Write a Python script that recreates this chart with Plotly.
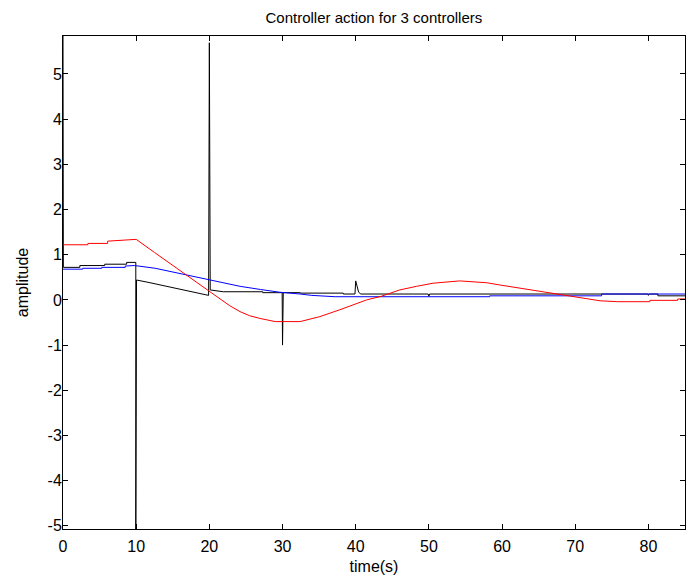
import plotly.graph_objects as go

# Controller outputs sampled from the simulation (time in s, amplitude)
black_t = [0, 0.05, 2.3, 2.3, 5.7, 5.7, 8.7, 8.7, 9.95, 9.95, 10.05, 10.05, 11.6, 14.3, 17.0, 19.9,
           20.0, 20.05, 20.1, 20.12, 21.9, 27.3, 27.3, 29.95, 30.0, 30.05, 30.1, 32.4, 32.4, 38.3, 38.3,
           39.9, 40.0, 40.4, 40.7, 49.9, 50.0, 50.1, 79.9, 80.0, 80.1, 81.3, 81.3, 85.0]
black_y = [5.84, 0.72, 0.72, 0.76, 0.76, 0.79, 0.79, 0.83, 0.83, -5.07, -5.07, 0.44, 0.39, 0.30, 0.20, 0.10,
           5.69, 3.55, 3.20, 0.22, 0.18, 0.18, 0.16, 0.16, -1.00, -0.29, 0.16, 0.16, 0.15, 0.15, 0.13,
           0.13, 0.42, 0.17, 0.13, 0.13, 0.08, 0.13, 0.13, 0.10, 0.13, 0.13, 0.09, 0.09]

blue_t = [0, 2.7, 2.7, 5.3, 5.3, 8.5, 8.5, 9.8, 12.6, 16.7, 18.7, 20.8, 24.2, 27.0, 29.6, 32.4, 34.0,
          37.2, 58.3, 58.3, 73.6, 73.6, 85.0]
blue_y = [0.68, 0.68, 0.70, 0.70, 0.72, 0.72, 0.75, 0.76, 0.70, 0.56, 0.48, 0.42, 0.30, 0.23, 0.17, 0.13, 0.10,
          0.07, 0.07, 0.09, 0.09, 0.13, 0.13]

red_t = [0, 3.4, 3.4, 6.1, 6.1, 8.9, 10.0, 12.5, 15.0, 16.7, 18.7, 20.0, 21.4, 22.8, 24.2, 25.5, 26.9,
         29.0, 32.4, 35.1, 37.8, 40.6, 41.5, 43.5, 46.0, 48.3, 50.6, 54.2, 57.9, 59.7, 62.4, 65.2, 67.9,
         70.6, 73.4, 75.8, 80.2, 80.2, 84.0, 84.0, 85.0]
red_y = [1.22, 1.22, 1.25, 1.25, 1.30, 1.33, 1.34, 1.05, 0.76, 0.56, 0.33, 0.19, 0.02, -0.13, -0.26, -0.35, -0.41,
         -0.48, -0.48, -0.37, -0.22, -0.06, 0.00, 0.08, 0.22, 0.30, 0.37, 0.42, 0.38, 0.33, 0.26, 0.18, 0.11,
         0.04, -0.02, -0.04, -0.04, -0.01, -0.01, 0.02, 0.02]

x_ticks = [0, 10, 20, 30, 40, 50, 60, 70, 80]
y_ticks = [-5, -4, -3, -2, -1, 0, 1, 2, 3, 4, 5]

FONT = "Liberation Sans, Arial"

fig = go.Figure()
fig.add_trace(go.Scatter(x=black_t, y=black_y, mode="lines", line=dict(color="black", width=1)))
fig.add_trace(go.Scatter(x=blue_t, y=blue_y, mode="lines", line=dict(color="#0000ff", width=1)))
fig.add_trace(go.Scatter(x=red_t, y=red_y, mode="lines", line=dict(color="#ff0000", width=1)))

axis_style = dict(
    showline=True, linecolor="black", linewidth=1, mirror="allticks",
    ticks="inside", ticklen=5, tickcolor="black", showgrid=False, zeroline=False,
    tickfont=dict(family=FONT, size=16, color="black"),
)

fig.update_layout(
    width=686, height=588,
    margin=dict(l=63, r=1, t=36, b=59),
    paper_bgcolor="white", plot_bgcolor="white",
    showlegend=False,
    title=dict(text="Controller action for 3 controllers", x=0.545, xanchor="center", y=0.969, yanchor="middle",
               font=dict(family=FONT, size=15, color="black")),
    xaxis=dict(range=[0, 85], tickvals=x_ticks, ticktext=[str(v) for v in x_ticks],
               ticklabelstandoff=3,
               title=dict(text="time(s)", standoff=6, font=dict(family=FONT, size=16, color="black")),
               **axis_style),
    yaxis=dict(range=[-5.07, 5.84], tickvals=y_ticks, ticktext=[str(v) for v in y_ticks],
               ticklabelstandoff=-3,
               title=dict(text="amplitude", standoff=14, font=dict(family=FONT, size=16, color="black")),
               **axis_style),
)

fig.write_html("out.html")
